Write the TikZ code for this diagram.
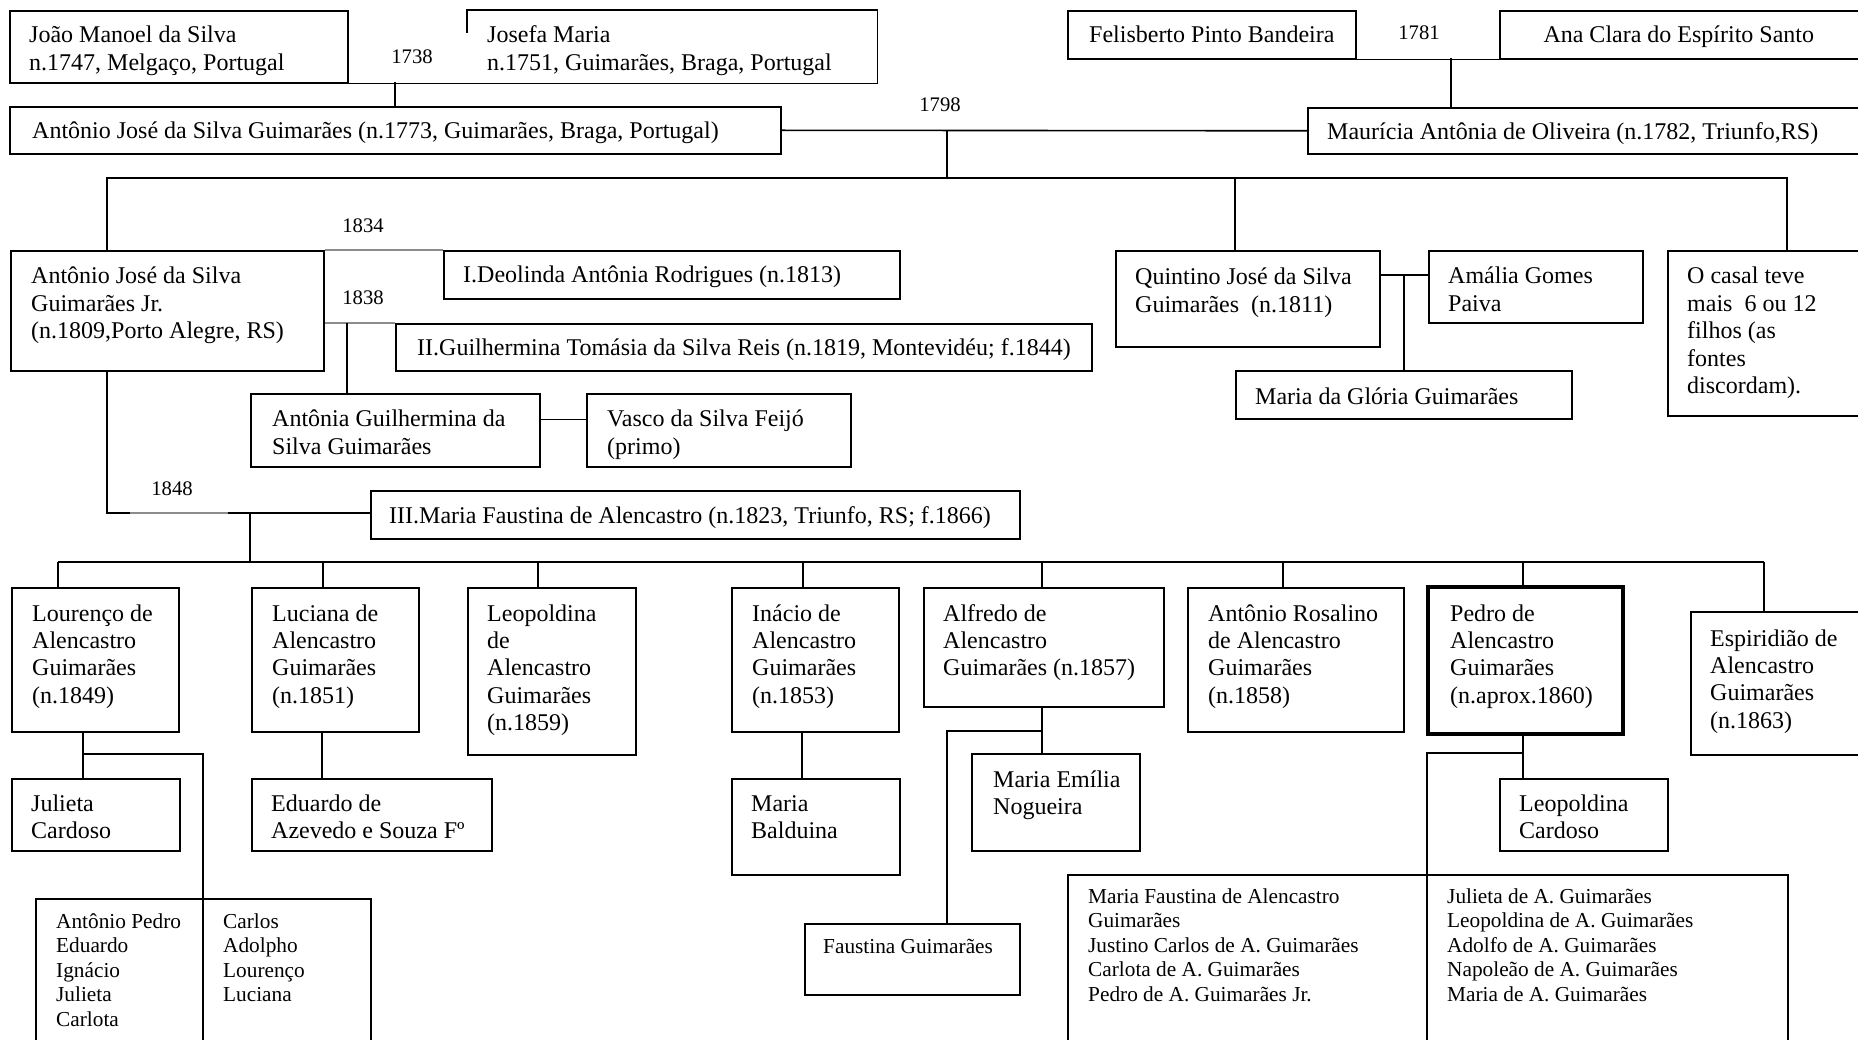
\documentclass[tikz,border=0pt]{standalone}
\usepackage{fontspec}
\setmainfont{Liberation Serif}

\newcommand{\famtext}[1]{\begin{tabular}[t]{@{}l@{}}#1\end{tabular}}

\begin{document}
\begin{tikzpicture}[
    x=1pt, y=-1pt,
    box/.style={draw, rectangle, line width=1.6pt, inner sep=0pt, anchor=north west},
    heavy box/.style={box, line width=3.5pt},
    txt/.style={anchor=base west, inner sep=0pt, font=\fontsize{24}{27.4}\selectfont},
    small txt/.style={txt, font=\fontsize{21.3}{24.6}\selectfont},
    year/.style={inner sep=0pt, font=\fontsize{20.7}{24}\selectfont},
    link/.style={line width=1.6pt},
    faint link/.style={line width=1.6pt, black!45},
]
\useasboundingbox (0,0) rectangle (1858,1040);
\clip (0,0) rectangle (1858,1040);

% first generation
\node[box, minimum width=338, minimum height=72] (joao) at (9,10) {};
\node[txt] (joao-t) at ([shift={(20,33)}]joao.north west) {\famtext{João Manoel da Silva\\n.1747, Melgaço, Portugal}};
\node[box, draw=none, minimum width=409, minimum height=72] (josefa) at (467,10) {};
\draw[link] ([yshift=-23pt]josefa.north west) -- (josefa.north west) -- (josefa.north east) -- (josefa.south east) -- (josefa.south west);
\node[txt] (josefa-t) at ([shift={(20,33)}]josefa.north west) {\famtext{Josefa Maria\\n.1751, Guimarães, Braga, Portugal}};
\node[box, minimum width=288, minimum height=48] (felisberto) at (1067,10) {};
\node[txt, anchor=base] (felisberto-t) at ([yshift=-33pt]felisberto.north) {Felisberto Pinto Bandeira};
\node[box, minimum width=362, minimum height=48] (anaclara) at (1499,10) {};
\node[txt, anchor=base] (anaclara-t) at ([shift={(-2,33)}]anaclara.north) {Ana Clara do Espírito Santo};

\node[year] (y1738) at (412,57) {1738};
\node[year] (y1781) at (1419,33) {1781};
\node[year] (y1798) at (940,105) {1798};

% second generation
\node[box, minimum width=771, minimum height=47] (antonio) at (9,106) {};
\node[txt] (antonio-t) at ([shift={(23,33)}]antonio.north west) {Antônio José da Silva Guimarães (n.1773, Guimarães, Braga, Portugal)};
\node[box, minimum width=560, minimum height=46] (mauricia) at (1307,107) {};
\node[txt] (mauricia-t) at ([shift={(20,33)}]mauricia.north west) {Maurícia Antônia de Oliveira (n.1782, Triunfo,RS)};

\draw[link] (joao.south east) -- (josefa.south west);
\coordinate (c1738) at (395,82);
\draw[link] (c1738) -- (c1738 |- antonio.north);
\draw[link] (felisberto.south east) -- (anaclara.south west);
\coordinate (c1781) at (1451,58);
\draw[link] (c1781) -- (c1781 |- mauricia.north);
\draw[link] (antonio.east) -- (mauricia.west);

% third generation
\node[box, minimum width=313, minimum height=120] (antjr) at (10,250) {};
\node[txt] (antjr-t) at ([shift={(21,34)}]antjr.north west) {\famtext{Antônio José da Silva\\Guimarães Jr.\\(n.1809,Porto Alegre, RS)}};
\node[box, minimum width=456, minimum height=48] (deolinda) at (443,250) {};
\node[txt] (deolinda-t) at ([shift={(20,33)}]deolinda.north west) {I.Deolinda Antônia Rodrigues (n.1813)};
\node[box, minimum width=696, minimum height=47] (guilhermina) at (395,323) {};
\node[txt] (guilhermina-t) at ([shift={(22,33)}]guilhermina.north west) {II.Guilhermina Tomásia da Silva Reis (n.1819, Montevidéu; f.1844)};
\node[box, minimum width=289, minimum height=73] (antonia) at (250,393) {};
\node[txt] (antonia-t) at ([shift={(22,34)}]antonia.north west) {\famtext{Antônia Guilhermina da\\Silva Guimarães}};
\node[box, minimum width=264, minimum height=73] (vasco) at (586,393) {};
\node[txt] (vasco-t) at ([shift={(21,34)}]vasco.north west) {\famtext{Vasco da Silva Feijó\\(primo)}};
\node[box, minimum width=649, minimum height=48] (mfaustina) at (370,490) {};
\node[txt] (mfaustina-t) at ([shift={(19,33)}]mfaustina.north west) {III.Maria Faustina de Alencastro (n.1823, Triunfo, RS; f.1866)};
\node[box, minimum width=264, minimum height=96] (quintino) at (1115,250) {};
\node[txt] (quintino-t) at ([shift={(20,35)}]quintino.north west) {\famtext{Quintino José da Silva\\Guimarães\ \ (n.1811)}};
\node[box, minimum width=214, minimum height=72] (amalia) at (1428,250) {};
\node[txt] (amalia-t) at ([shift={(20,34)}]amalia.north west) {\famtext{Amália Gomes\\Paiva}};
\node[box, minimum width=336, minimum height=48] (mgloria) at (1235,370) {};
\node[txt] (mgloria-t) at ([shift={(20,35)}]mgloria.north west) {Maria da Glória Guimarães};
\node[box, minimum width=200, minimum height=165] (ocasal) at (1667,250) {};
\node[txt] (ocasal-t) at ([shift={(20,34)}]ocasal.north west) {\famtext{O casal teve\\mais\ \ 6 ou 12\\filhos (as\\fontes\\discordam).}};

\node[year] (y1834) at (363,226) {1834};
\node[year] (y1838) at (363,298) {1838};
\node[year] (y1848) at (172,489) {1848};

\coordinate (c1798) at (947,130);
\coordinate (bar1-l) at (107,178);
\coordinate (bar1-r) at (1787,178);
\coordinate (bar1-q) at (1235,178);
\draw[link] (c1798) -- (c1798 |- bar1-l);
\draw[link] (bar1-l |- antjr.north) -- (bar1-l) -- (bar1-r) -- (bar1-r |- ocasal.north);
\draw[link] (bar1-q) -- (bar1-q |- quintino.north);

\draw[faint link] (antjr.north east) -- (deolinda.north west);
\coordinate (c1838) at (347,323);
\draw[faint link] (antjr.east |- c1838) -- (guilhermina.north west);
\draw[link] (c1838) -- (c1838 |- antonia.north);
\draw[link] ([yshift=11pt]antonia.east) -- ([yshift=11pt]vasco.west);

\coordinate (c1848) at (107,513);
\coordinate (c1848-a) at (130,513);
\coordinate (c1848-b) at (228,513);
\coordinate (c1848-d) at (250,513);
\draw[link] (c1848 |- antjr.south) -- (c1848) -- (c1848-a);
\draw[faint link] (c1848-a) -- (c1848-b);
\draw[link] (c1848-b) -- (mfaustina.west |- c1848-b);

\coordinate (quin-dn) at (1404,275);
\draw[link] (quintino.east |- quin-dn) -- (amalia.west |- quin-dn);
\draw[link] (quin-dn) -- (quin-dn |- mgloria.north);

% fourth generation
\node[box, minimum width=167, minimum height=144] (lourenco) at (11,587) {};
\node[txt] (lourenco-t) at ([shift={(21,34)}]lourenco.north west) {\famtext{Lourenço de\\Alencastro\\Guimarães\\(n.1849)}};
\node[box, minimum width=167, minimum height=144] (luciana) at (251,587) {};
\node[txt] (luciana-t) at ([shift={(21,34)}]luciana.north west) {\famtext{Luciana de\\Alencastro\\Guimarães\\(n.1851)}};
\node[box, minimum width=168, minimum height=167] (leopoldina) at (467,587) {};
\node[txt] (leopoldina-t) at ([shift={(20,34)}]leopoldina.north west) {\famtext{Leopoldina\\de\\Alencastro\\Guimarães\\(n.1859)}};
\node[box, minimum width=167, minimum height=144] (inacio) at (731,587) {};
\node[txt] (inacio-t) at ([shift={(21,34)}]inacio.north west) {\famtext{Inácio de\\Alencastro\\Guimarães\\(n.1853)}};
\node[box, minimum width=240, minimum height=119] (alfredo) at (923,587) {};
\node[txt] (alfredo-t) at ([shift={(20,34)}]alfredo.north west) {\famtext{Alfredo de\\Alencastro\\Guimarães (n.1857)}};
\node[box, minimum width=216, minimum height=144] (rosalino) at (1187,587) {};
\node[txt] (rosalino-t) at ([shift={(21,34)}]rosalino.north west) {\famtext{Antônio Rosalino\\de Alencastro\\Guimarães\\(n.1858)}};
\node[heavy box, minimum width=195, minimum height=147] (pedro) at (1426,585) {};
\node[txt] (pedro-t) at ([shift={(24,36)}]pedro.north west) {\famtext{Pedro de\\Alencastro\\Guimarães\\(n.aprox.1860)}};
\node[box, minimum width=180, minimum height=143] (espiridiao) at (1690,611) {};
\node[txt] (espiridiao-t) at ([shift={(20,35)}]espiridiao.north west) {\famtext{Espiridião de\\Alencastro\\Guimarães\\(n.1863)}};

\coordinate (bar2-l) at (58,562);
\coordinate (bar2-r) at (1764,562);
\draw[link] (c1848-d) -- (c1848-d |- bar2-l);
\draw[link] (bar2-l) -- (bar2-r);
\foreach \x/\n in {58/lourenco,323/luciana,538/leopoldina,803/inacio,1042/alfredo,1283/rosalino,1523/pedro,1764/espiridiao}{
    \coordinate (\n-up) at (\x,562);
    \draw[link] (\n-up) -- (\n-up |- \n.north);
}

% fifth generation
\node[box, minimum width=168, minimum height=72] (julieta) at (11,778) {};
\node[txt] (julieta-t) at ([shift={(20,33)}]julieta.north west) {\famtext{Julieta\\Cardoso}};
\node[box, minimum width=240, minimum height=72] (eduardo) at (251,778) {};
\node[txt] (eduardo-t) at ([shift={(20,33)}]eduardo.north west) {\famtext{Eduardo de\\Azevedo e Souza Fº}};
\node[box, minimum width=168, minimum height=96] (balduina) at (731,778) {};
\node[txt] (balduina-t) at ([shift={(20,33)}]balduina.north west) {\famtext{Maria\\Balduina}};
\node[box, minimum width=168, minimum height=97] (memilia) at (971,753) {};
\node[txt] (memilia-t) at ([shift={(22,34)}]memilia.north west) {\famtext{Maria Emília\\Nogueira}};
\node[box, minimum width=215, minimum height=71] (faustina) at (804,923) {};
\node[small txt] (faustina-t) at ([shift={(19,30)}]faustina.north west) {Faustina Guimarães};
\node[box, minimum width=168, minimum height=72] (lcardoso) at (1499,778) {};
\node[txt] (lcardoso-t) at ([shift={(20,33)}]lcardoso.north west) {\famtext{Leopoldina\\Cardoso}};
\node[box, minimum width=335, minimum height=170] (lkids) at (35,898) {};
\node[small txt] (lkids-a) at ([shift={(21,30)}]lkids.north west) {\famtext{Antônio Pedro\\Eduardo\\Ignácio\\Julieta\\Carlota}};
\node[small txt] (lkids-b) at ([shift={(188,30)}]lkids.north west) {\famtext{Carlos\\Adolpho\\Lourenço\\Luciana}};
\node[box, minimum width=720, minimum height=190] (pkids) at (1067,874) {};
\node[small txt] (pkids-a) at ([shift={(21,29)}]pkids.north west) {\famtext{Maria Faustina de Alencastro\\Guimarães\\Justino Carlos de A. Guimarães\\Carlota de A. Guimarães\\Pedro de A. Guimarães Jr.}};
\node[small txt] (pkids-b) at ([shift={(380,29)}]pkids.north west) {\famtext{Julieta de A. Guimarães\\Leopoldina de A. Guimarães\\Adolfo de A. Guimarães\\Napoleão de A. Guimarães\\Maria de A. Guimarães}};

\coordinate (lou-dn) at (83,754);
\coordinate (lou-br) at (203,754);
\draw[link] (lou-dn |- lourenco.south) -- (lou-dn |- julieta.north);
\draw[link] (lou-dn) -- (lou-br) -- (lou-br |- lkids.south);
\coordinate (luc-dn) at (322,754);
\draw[link] (luc-dn |- luciana.south) -- (luc-dn |- eduardo.north);
\coordinate (ina-dn) at (802,754);
\draw[link] (ina-dn |- inacio.south) -- (ina-dn |- balduina.north);
\coordinate (alf-dn) at (1042,731);
\coordinate (alf-br) at (947,731);
\draw[link] (alf-dn |- alfredo.south) -- (alf-dn |- memilia.north);
\draw[link] (alf-dn) -- (alf-br) -- (alf-br |- faustina.north);
\coordinate (ped-dn) at (1523,753);
\coordinate (ped-br) at (1427,753);
\draw[link] (ped-dn |- pedro.south) -- (ped-dn |- lcardoso.north);
\draw[link] (ped-dn) -- (ped-br) -- (ped-br |- pkids.south);
\end{tikzpicture}
\end{document}
